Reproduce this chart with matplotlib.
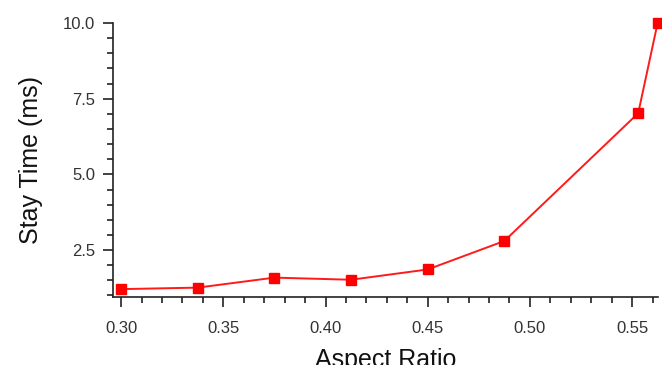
import numpy as np
import matplotlib
matplotlib.use("Agg")
import matplotlib.pyplot as plt
from matplotlib.ticker import MultipleLocator

# Data
aspect_ratio = [0.300, 0.3375, 0.375, 0.4125, 0.450, 0.4875, 0.553, 0.5625]
stay_time = [1.21, 1.26, 1.59, 1.52, 1.86, 2.80, 7.02, 10.0]

plt.rcParams["font.family"] = ["Liberation Sans", "DejaVu Sans"]

fig = plt.figure(figsize=(6.62, 3.65), dpi=100)
ax = fig.add_axes([0.1707, 0.1863, 0.8233, 0.7507])

ax.plot(aspect_ratio, stay_time, color="#ff1a1a", lw=1.4,
        marker="s", markersize=7.5, markerfacecolor="#ff0000",
        markeredgecolor="#ff0000", clip_on=False, zorder=3)

ax.set_xlim(0.296, 0.5627)
ax.set_ylim(0.95, 10.0)

ax.xaxis.set_major_locator(MultipleLocator(0.05))
ax.xaxis.set_minor_locator(MultipleLocator(0.01))
ax.yaxis.set_major_locator(MultipleLocator(2.5))
ax.yaxis.set_minor_locator(MultipleLocator(0.5))
ax.xaxis.set_major_formatter(plt.FormatStrFormatter("%.2f"))
ax.yaxis.set_major_formatter(plt.FormatStrFormatter("%.1f"))

for side in ("top", "right"):
    ax.spines[side].set_visible(False)
for side in ("left", "bottom"):
    ax.spines[side].set_color("#222222")
    ax.spines[side].set_linewidth(1.2)

ax.tick_params(which="major", direction="out", length=7, width=1.2,
               color="#222222", labelsize=12, labelcolor="#333333", pad=6)
ax.tick_params(axis="x", which="major", pad=10)
ax.tick_params(which="minor", direction="out", length=4.5, width=1.2,
               color="#222222")

ax.set_xlabel("Aspect Ratio", fontsize=18, color="#111111", labelpad=9)
ax.set_ylabel("Stay Time (ms)", fontsize=18, color="#111111", labelpad=14)

fig.savefig("out.png", dpi=100)
